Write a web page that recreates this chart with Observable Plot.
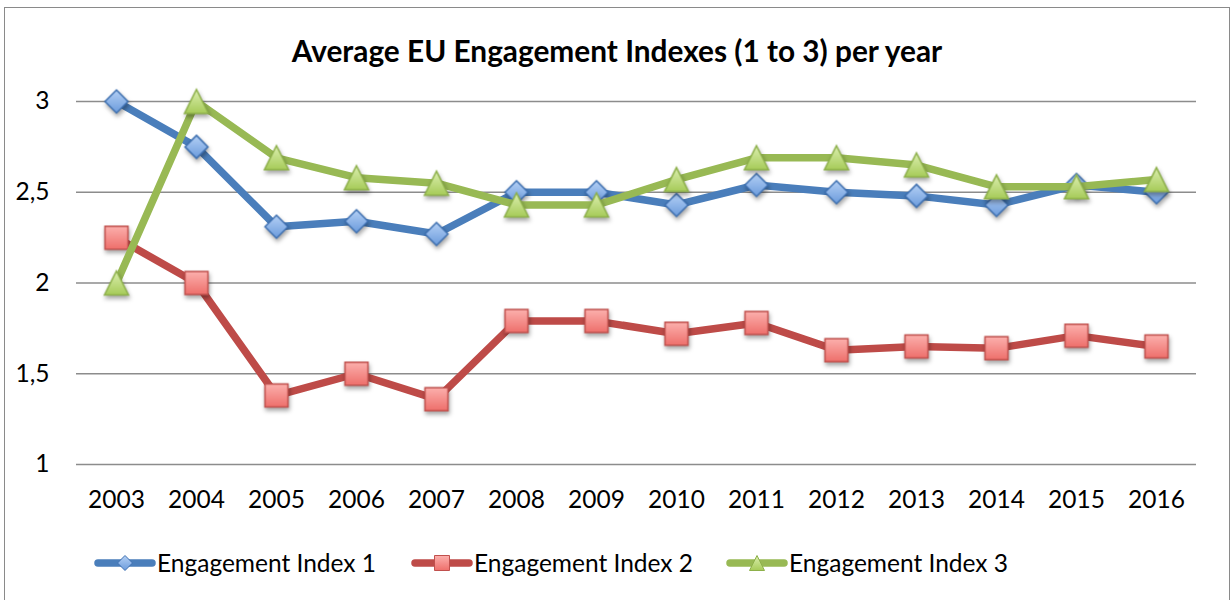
<!DOCTYPE html>
<html>
<head>
<meta charset="utf-8">
<script src="https://cdn.jsdelivr.net/npm/d3@7"></script>
<script src="https://cdn.jsdelivr.net/npm/@observablehq/plot@0.6"></script>
<style>
  html, body { margin: 0; padding: 0; background: #fff; }
  #page { position: relative; width: 1232px; height: 600px; overflow: hidden; font-family: Lato, "Open Sans", sans-serif; }
  #frame { position: absolute; left: 4px; top: 7px; width: 1226px; height: 640px; border: 1px solid #8a8a8a; box-sizing: border-box; }
  #title { position: absolute; left: 0; top: 36px; width: 1234px; text-align: center; font-weight: 700; font-size: 29.8px; line-height: 30px; color: #000; }
  #chart { position: absolute; left: 0; top: 80px; }
  #legend { position: absolute; left: 0; top: 549px; width: 1232px; height: 28px; font-size: 24.5px; line-height: 28px; color: #000; }
  .item { position: absolute; top: 0; display: flex; align-items: center; white-space: nowrap; }
  .item svg { display: block; margin-right: 1px; }
  .markers { filter: drop-shadow(1px 3px 2px rgba(0,0,0,0.35)); }
</style>
</head>
<body>
<div id="page">
  <div id="frame"></div>
  <div id="title"></div>
  <div id="chart"></div>
  <div id="legend"></div>
</div>
<script>
// ---- data ----
const titleText = "Average EU Engagement Indexes (1 to 3) per year";
const years = ["2003","2004","2005","2006","2007","2008","2009","2010","2011","2012","2013","2014","2015","2016"];
const index1 = [3.00, 2.75, 2.31, 2.34, 2.27, 2.50, 2.50, 2.43, 2.54, 2.50, 2.48, 2.43, 2.54, 2.50];
const index2 = [2.25, 2.00, 1.38, 1.50, 1.36, 1.79, 1.79, 1.72, 1.78, 1.63, 1.65, 1.64, 1.71, 1.65];
const index3 = [2.00, 3.00, 2.69, 2.58, 2.55, 2.43, 2.43, 2.57, 2.69, 2.69, 2.65, 2.53, 2.53, 2.57];
const seriesNames = ["Engagement Index 1", "Engagement Index 2", "Engagement Index 3"];
const yTicks = [1, 1.5, 2, 2.5, 3];

// ---- styles ----
const lineColors = ["#4a7ebb", "#be4b48", "#98b954"];
const markerStroke = ["#3d6fb0", "#c0504d", "#8db04a"];
const markerFill = ["url(#gBlue)", "url(#gRed)", "url(#gGreen)"];
const gradStops = {
  gBlue: ["#b4d0f5", "#6b9bdc"],
  gRed: ["#fcb0ad", "#ee6f6b"],
  gGreen: ["#dcefb0", "#a6cb58"]
};
const legendLeft = [94, 411, 726];

const symbols = [
  { draw(ctx, size) { const s = Math.sqrt(size) / 2; ctx.moveTo(0, -s); ctx.lineTo(s, 0); ctx.lineTo(0, s); ctx.lineTo(-s, 0); ctx.closePath(); } },
  { draw(ctx, size) { const s = Math.sqrt(size) / 2; ctx.moveTo(-s, -s); ctx.lineTo(s, -s); ctx.lineTo(s, s); ctx.lineTo(-s, s); ctx.closePath(); } },
  { draw(ctx, size) { const s = Math.sqrt(size) / 2; ctx.moveTo(0, -s); ctx.lineTo(s, s); ctx.lineTo(-s, s); ctx.closePath(); } }
];
const markerSide = [23, 23, 24];
const rOf = side => side / Math.sqrt(Math.PI);

const allSeries = [index1, index2, index3];
const tables = allSeries.map(vals => years.map((year, i) => ({ year, value: vals[i] })));

document.getElementById("title").textContent = titleText;

const marks = [
  Plot.ruleY(yTicks, { stroke: "#8c8c8c", strokeWidth: 1.5 })
];
tables.forEach((t, k) => {
  marks.push(Plot.line(t, { x: "year", y: "value", stroke: lineColors[k], strokeWidth: 7.5, strokeLinejoin: "round", strokeLinecap: "round" }));
  marks.push(Plot.dot(t, { x: "year", y: "value", symbol: symbols[k], r: rOf(markerSide[k]), fill: markerFill[k], stroke: markerStroke[k], strokeWidth: 1.5, className: "markers" }));
});

const fmt = d => String(d).replace(".", ",");
const chart = Plot.plot({
  width: 1232,
  height: 440,
  marginLeft: 76,
  marginRight: 36,
  marginTop: 21,
  marginBottom: 56,
  style: { fontFamily: "Lato, 'Open Sans', sans-serif", fontSize: "24.5px", color: "#000", background: "transparent", overflow: "visible" },
  x: { type: "point", domain: years, padding: 0.5, align: 0.5, label: null },
  y: { domain: [1, 3], ticks: yTicks, label: null, tickFormat: fmt },
  marks: [
    Plot.axisX({ tickSize: 0, tickPadding: 26, label: null }),
    Plot.axisY({ ticks: yTicks, tickSize: 0, tickPadding: 27, label: null, tickFormat: fmt }),
    ...marks
  ]
});

// gradients
const svgSel = d3.select(chart);
const defs = svgSel.insert("defs", ":first-child");
Object.entries(gradStops).forEach(([id, [c0, c1]]) => {
  const g = defs.append("linearGradient").attr("id", id).attr("x1", 0).attr("y1", 0).attr("x2", 0).attr("y2", 1);
  g.append("stop").attr("offset", "0%").attr("stop-color", c0);
  g.append("stop").attr("offset", "100%").attr("stop-color", c1);
});
document.getElementById("chart").appendChild(chart);

// legend
const legend = d3.select("#legend");
seriesNames.forEach((name, k) => {
  const item = legend.append("div").attr("class", "item").style("left", legendLeft[k] + "px");
  const s = item.append("svg").attr("width", 62).attr("height", 28);
  const ls = s.append("defs");
  const g = ls.append("linearGradient").attr("id", "lg" + k).attr("x1", 0).attr("y1", 0).attr("x2", 0).attr("y2", 1);
  const stops = Object.values(gradStops)[k];
  g.append("stop").attr("offset", "0%").attr("stop-color", stops[0]);
  g.append("stop").attr("offset", "100%").attr("stop-color", stops[1]);
  s.append("line").attr("x1", 4).attr("x2", 58).attr("y1", 14).attr("y2", 14)
    .attr("stroke", lineColors[k]).attr("stroke-width", 7.5).attr("stroke-linecap", "round");
  const path = d3.path();
  symbols[k].draw(path, 15 * 15);
  s.append("path").attr("d", path.toString()).attr("transform", "translate(31,14)")
    .attr("fill", "url(#lg" + k + ")").attr("stroke", markerStroke[k]).attr("stroke-width", 1);
  item.append("span").text(name);
});
</script>
</body>
</html>
